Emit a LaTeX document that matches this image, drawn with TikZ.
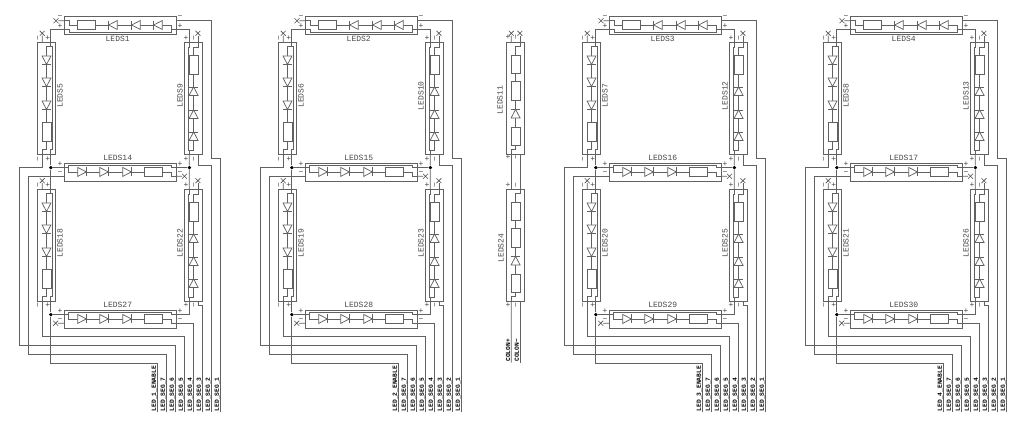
\documentclass[tikz,border=0pt]{standalone}
\usepackage{fontspec}
\setmonofont{Liberation Mono}
\usetikzlibrary{shapes.misc}

\begin{document}
\begin{tikzpicture}[x = .75pt, y = -.75pt,
    wire/.style = {draw = black!62, line width = .55pt},
    reflab/.style = {text = black!72, inner sep = 0pt, font = \ttfamily\fontsize{6}{6}\selectfont},
    pinlab/.style = {reflab},
    netlab/.style = {rotate = 90, inner sep = .6pt, text = black, font = \ttfamily\bfseries\fontsize{4.7}{5}\selectfont},
    nc/.style = {cross out, draw = black!70, line width = .45pt, inner sep = 0pt, minimum size = 3.2pt},
    dot/.style = {circle, fill = black, inner sep = 0pt, minimum size = 2.8pt},
    diode/.pic = {
        \draw [wire, fill = white] (-4.3,-4.5) -- (4.3,0) -- (-4.3,4.5) -- cycle;
        \draw [wire] (4.3,-4.5) -- (4.3,4.5);
    },
    res/.pic = {\draw [wire, fill = white] (-9.2,-4.5) rectangle (9.2,4.5);},
    strip/.pic = {
        \draw [wire] (-56,-9) rectangle (56,9);
        \coordinate (-pl) at (-56,-4.3);
        \coordinate (-pr) at (56,-4.3);
        \coordinate (-ml) at (-56,4.3);
        \coordinate (-mr) at (56,4.3);
        \draw [wire] (-pl) -- (-51.7,-4.3) -- (-51.7,0) -- (51,0) -- (51,4.3) -- (-mr);
        \draw [wire] (-51.7,-4.3) -- (-51.7,#1) -- (51,#1) -- (51,-4.3) -- (-pr);
        \foreach \x in {-38, -16, 7}
                 {
                   \pic [transform shape] at (\x,0) {diode};
                 }
        \pic [transform shape] at (33.5,0) {res};
    },
    colon/.pic = {
        \draw [wire] (-56,-9) rectangle (56,9);
        \coordinate (-pl) at (-56,-4.3);
        \coordinate (-pr) at (56,-4.3);
        \coordinate (-ml) at (-56,4.3);
        \coordinate (-mr) at (56,4.3);
        \draw [wire] (-pl) -- (-52,-4.3) -- (-52,0) -- (51,0) -- (51,4.3) -- (-mr);
        \pic [transform shape] at (-33.8,0) {res};
        \pic [transform shape] at (-7.2,0) {res};
        \pic [transform shape, rotate = 180] at (15.5,0) {diode};
        \pic [transform shape] at (38,0) {res};
    }]
    \useasboundingbox (0,0) rectangle (1024,429);

    \foreach \n/\dx/\la/\lb/\lc/\ld/\le/\lf/\lg in {1/0/1/5/9/14/18/22/27, 2/241/2/6/10/15/19/23/28, 3/545/3/7/12/16/20/25/29, 4/786/4/8/13/17/21/26/30}
             {
               \begin{scope}[shift = {(\dx,0)}]
                 \pic [rotate = 180] (a) at (120,25) {strip=-7};
                 \pic [rotate = -90] (b) at (46.5,98.2) {strip=-5.4};
                 \pic [rotate = 90] (c) at (193.6,98.2) {strip=-5.4};
                 \pic (d) at (120,171.9) {strip=-7};
                 \pic [rotate = -90] (e) at (46.5,245.2) {strip=-5.4};
                 \pic [rotate = 90] (f) at (193.6,245.2) {strip=-5.4};
                 \pic (g) at (120,318.9) {strip=-7};

                 \node [reflab] (ra) at (117.7,38.7) {LEDS\la};
                 \node [reflab, rotate = 90] (rb) at (60,95.7) {LEDS\lb};
                 \node [reflab, rotate = 90] (rc) at (180,95.7) {LEDS\lc};
                 \node [reflab] (rd) at (117.7,158) {LEDS\ld};
                 \node [reflab, rotate = 90] (re) at (60,243) {LEDS\le};
                 \node [reflab, rotate = 90] (rf) at (180,243) {LEDS\lf};
                 \node [reflab] (rg) at (117.7,305) {LEDS\lg};

                 \node [netlab, anchor = south west] (en) at (157.7,412.3) {LED\_\n\_ENABLE};
                 \foreach \i/\x in {7/166.7, 6/175.7, 5/184.7, 4/193.7, 3/202.7, 2/211.7, 1/220.7}
                          {
                            \node [netlab, anchor = south west] (seg\i) at (\x,412.3) {LED\_SEG\_\i};
                          }

                 \node [dot] (jl) at (50.8,167.6) {};
                 \node [dot] (jr) at (189.3,167.6) {};
                 \node [dot] (jb) at (50.8,314.6) {};

                 \draw [wire] (a-pr) -| (b-pl);
                 \draw [wire] (a-pl) -| (c-pr);
                 \draw [wire] (a-ml) -| (211.7,158.3) -| (seg1.south west);
                 \draw [wire] (c-ml) |- (211.7,165.7) -- (seg2.south west);
                 \draw [wire] (f-ml) |- (202.7,305.5) -- (seg3.south west);
                 \draw [wire] (g-mr) -| (seg4.south west);
                 \draw [wire] (e-mr) |- (184.7,336.3) -- (seg5.south west);
                 \draw [wire] (b-mr) |- (19.7,167.6) -- (19.7,345) -| (seg6.south west);
                 \draw [wire] (d-ml) -| (28.3,354.3) -| (seg7.south west);
                 \draw [wire] (b-pr) -- (jl) -- (e-pl);
                 \draw [wire] (d-pl) -- (jl);
                 \draw [wire] (c-pl) -- (jr) -- (f-pr);
                 \draw [wire] (d-pr) -- (jr);
                 \draw [wire] (e-pr) -- (jb) |- (157.7,363.3) -- (en.south west);
                 \draw [wire] (g-pl) -- (jb);
                 \draw [wire] (f-pl) |- (g-pr);

                 \foreach \p/\x/\y in {a-mr/56/20.7, b-ml/42.2/33.3, c-mr/197.9/33.3, d-mr/184.5/176.2, e-ml/42.2/180.7, f-mr/197.9/180.7, g-ml/55.7/323.2}
                          {
                            \node [nc] (nc\p) at (\x,\y) {};
                            \draw [wire] (\p) -- (nc\p);
                          }

                 \foreach \x/\y [count = \k] in {60/26, 180/26, 60/164, 180/164, 60/311, 180/311, 47.7/38, 186/38, 47.7/158.7, 186/158.7, 47.7/185, 186/185, 47.7/305.5, 186/305.5}
                          {
                            \node [pinlab] (p\k) at (\x,\y) {+};
                          }
                 \foreach \x/\y [count = \k] in {60/17, 180/17, 60/173, 180/173, 60/320, 180/320}
                          {
                            \node [pinlab] (m\k) at (\x,\y) {−};
                          }
                 \foreach \x/\y [count = \k] in {39/38, 195/38, 39/158.7, 195/158.7, 39/185, 195/185, 39/305.5, 195/305.5}
                          {
                            \node [pinlab, rotate = 90] (v\k) at (\x,\y) {−};
                          }
               \end{scope}
             }

    % colon
    \pic [rotate = -90] (h) at (515.6,98.2) {colon};
    \pic [rotate = -90] (k) at (515.6,245.2) {colon};
    \node [reflab, rotate = 90] (rh) at (500,100) {LEDS11};
    \node [reflab, rotate = 90] (rk) at (501,248) {LEDS24};
    \node [netlab, anchor = south west] (cp) at (511.3,362.7) {COLON+};
    \node [netlab, anchor = south west] (cm) at (519.9,362.7) {COLON−};
    \node [nc] (nch) at (511.3,33.3) {};
    \node [nc] (ncp) at (519.9,33.3) {};
    \draw [wire] (h-ml) -- (nch);
    \draw [wire] (h-pl) -- (ncp);
    \draw [wire] (h-mr) -- (k-ml);
    \draw [wire] (h-pr) -- (k-pl);
    \draw [wire] (k-mr) -- (cp.south west);
    \draw [wire] (k-pr) -- (cm.south west);
    \foreach \y [count = \k] in {37.5, 157, 185, 305}
             {
               \node [pinlab] (cpl\k) at (508,\y) {+};
               \node [pinlab, rotate = 90] (cml\k) at (516.7,\y) {−};
             }
\end{tikzpicture}
\end{document}
